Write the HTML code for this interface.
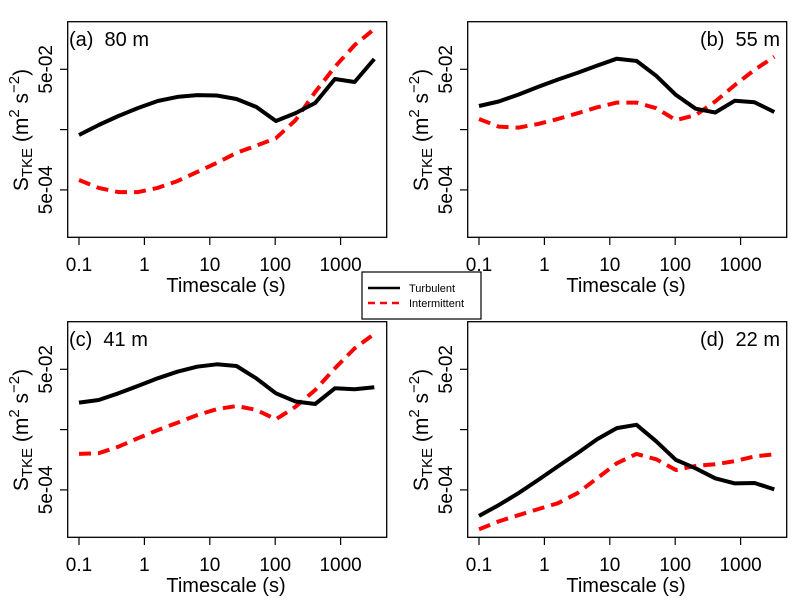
<!DOCTYPE html>
<html><head><meta charset="utf-8"><style>
html,body{margin:0;padding:0;background:#fff;}
svg{display:block;font-family:"Liberation Sans",Arial,sans-serif;}
.pre{white-space:pre;}
</style></head><body>
<svg id="chart" width="800" height="600" viewBox="0 0 800 600" xmlns="http://www.w3.org/2000/svg"></svg>
<script>
const timescales = [0.1,0.2,0.4,0.8,1.6,3.2,6.4,12.8,25.6,51.2,102.4,204.8,409.6,819.2,1638.4,3276.8];
const panelLabels = ["(a)  80 m","(b)  55 m","(c)  41 m","(d)  22 m"];
const turbA = [0.00407,0.00596,0.0084,0.0114,0.0149,0.0174,0.0187,0.0184,0.0161,0.0119,0.00695,0.0094,0.0138,0.0345,0.0308,0.074];
const interA = [0.00073,0.00054,0.00046,0.00046,0.00054,0.0007,0.00099,0.0014,0.00205,0.0027,0.0036,0.0072,0.021,0.055,0.126,0.233];
const turbB = [0.0123,0.0146,0.019,0.0255,0.0337,0.0435,0.0575,0.075,0.069,0.039,0.0188,0.0111,0.0096,0.0151,0.0142,0.0098];
const interB = [0.0075,0.0056,0.0054,0.0062,0.0075,0.0093,0.0117,0.014,0.014,0.0113,0.0072,0.0087,0.0146,0.0275,0.049,0.081];
const turbC = [0.014,0.0155,0.02,0.0265,0.0355,0.0457,0.0553,0.0605,0.0567,0.0355,0.02,0.0146,0.0133,0.0242,0.0233,0.0252];
const interC = [0.00198,0.00203,0.0026,0.0036,0.0049,0.0065,0.0087,0.0109,0.0123,0.0106,0.0074,0.012,0.0227,0.052,0.111,0.193];
const turbD = [0.000185,0.00028,0.00044,0.00073,0.00122,0.00203,0.00346,0.0053,0.006,0.0032,0.00157,0.00114,0.00078,0.00064,0.00065,0.00051];
const interD = [0.000111,0.00015,0.00019,0.00024,0.0003,0.00044,0.00078,0.00138,0.00198,0.00161,0.00107,0.00125,0.00133,0.0015,0.0018,0.00195];
const xTicks = [0.1,1,10,100,1000];
const xTickLabels = ["0.1","1","10","100","1000"];
const yTicks = [0.05,0.005,0.0005];
const yTickLabels = ["5e-02","","5e-04"];

const NS="http://www.w3.org/2000/svg";
const svg=document.getElementById('chart');
function mk(tag,attrs,parent){const e=document.createElementNS(NS,tag);for(const k in attrs)e.setAttribute(k,attrs[k]);(parent||svg).appendChild(e);return e;}
const offsets=[[0,0],[400,0],[0,300],[400,300]];
const turbs=[turbA,turbB,turbC,turbD], inters=[interA,interB,interC,interD];
const names=["a","b","c","d"];
function xs(t,ox){return ox+79+65.4*(Math.log10(t)+1);}
function ys(v,oy){return oy+69.3+60.3*(Math.log10(0.05)-Math.log10(v));}

offsets.forEach((o,i)=>{
  const [ox,oy]=o;
  const g=mk('g',{});
  
  
  const box=mk('rect',{x:ox+67.7,y:oy+21.7,width:319,height:215.6,fill:'none',stroke:'#000','stroke-width':1.3},g);
  
  
  xTicks.forEach((t,j)=>{
    const x=xs(t,ox);
    mk('line',{x1:x,x2:x,y1:oy+237.3,y2:oy+245,stroke:'#000','stroke-width':1.2},g);
    const tx=mk('text',{x:x,y:oy+271,'font-size':19,'text-anchor':'middle'},g);
    tx.textContent=xTickLabels[j];
    
    
  });
  yTicks.forEach((v,j)=>{
    const y=ys(v,oy);
    mk('line',{x1:ox+60,x2:ox+67.7,y1:y,y2:y,stroke:'#000','stroke-width':1.2},g);
    if(yTickLabels[j]){
      const tx=mk('text',{x:0,y:0,'font-size':19,'text-anchor':'middle',transform:`translate(${ox+52},${y}) rotate(-90)`},g);
      tx.textContent=yTickLabels[j];
      
      
    }
  });
  const xt=mk('text',{x:ox+226,y:oy+292,'font-size':20,'text-anchor':'middle'},g);
  xt.textContent="Timescale (s)";
  
  
  const yt=mk('text',{x:0,y:0,'font-size':21,'text-anchor':'middle',transform:`translate(${ox+28},${oy+130}) rotate(-90)`},g);
  yt.innerHTML='S<tspan font-size="15" dy="4">TKE</tspan><tspan dy="-4"> (m</tspan><tspan font-size="15" dy="-9">2</tspan><tspan dy="9"> s</tspan><tspan font-size="15" dy="-9">−2</tspan><tspan dy="9">)</tspan>';
  
  
  const right=(i===1||i===3);
  const pl=mk('text',{x:right?ox+380:ox+69,y:oy+46,'font-size':20,'text-anchor':right?'end':'start','class':'pre'},g);
  pl.textContent=panelLabels[i];
  
  
  const ptsT=timescales.map((t,k)=>xs(t,ox).toFixed(1)+','+ys(turbs[i][k],oy).toFixed(1)).join(' ');
  const ptsI=timescales.map((t,k)=>xs(t,ox).toFixed(1)+','+ys(inters[i][k],oy).toFixed(1)).join(' ');
  const li=mk('polyline',{points:ptsI,fill:'none',stroke:'#ff0000','stroke-width':4,'stroke-dasharray':'12 7','stroke-linejoin':'round'},g);
  
  
  const lt=mk('polyline',{points:ptsT,fill:'none',stroke:'#000','stroke-width':4,'stroke-linejoin':'round'},g);
  
  
});

const lg=mk('g',{});


mk('rect',{x:362,y:272,width:119,height:47,fill:'#fff',stroke:'#000','stroke-width':1.2},lg);
mk('line',{x1:368,x2:400,y1:288,y2:288,stroke:'#000','stroke-width':2.5},lg);
mk('line',{x1:368,x2:400,y1:303,y2:303,stroke:'#ff0000','stroke-width':2.5,'stroke-dasharray':'7 5'},lg);
const l1=mk('text',{x:409,y:292,'font-size':11},lg);l1.textContent="Turbulent";


const l2=mk('text',{x:409,y:307,'font-size':11},lg);l2.textContent="Intermittent";


</script>
</body></html>
